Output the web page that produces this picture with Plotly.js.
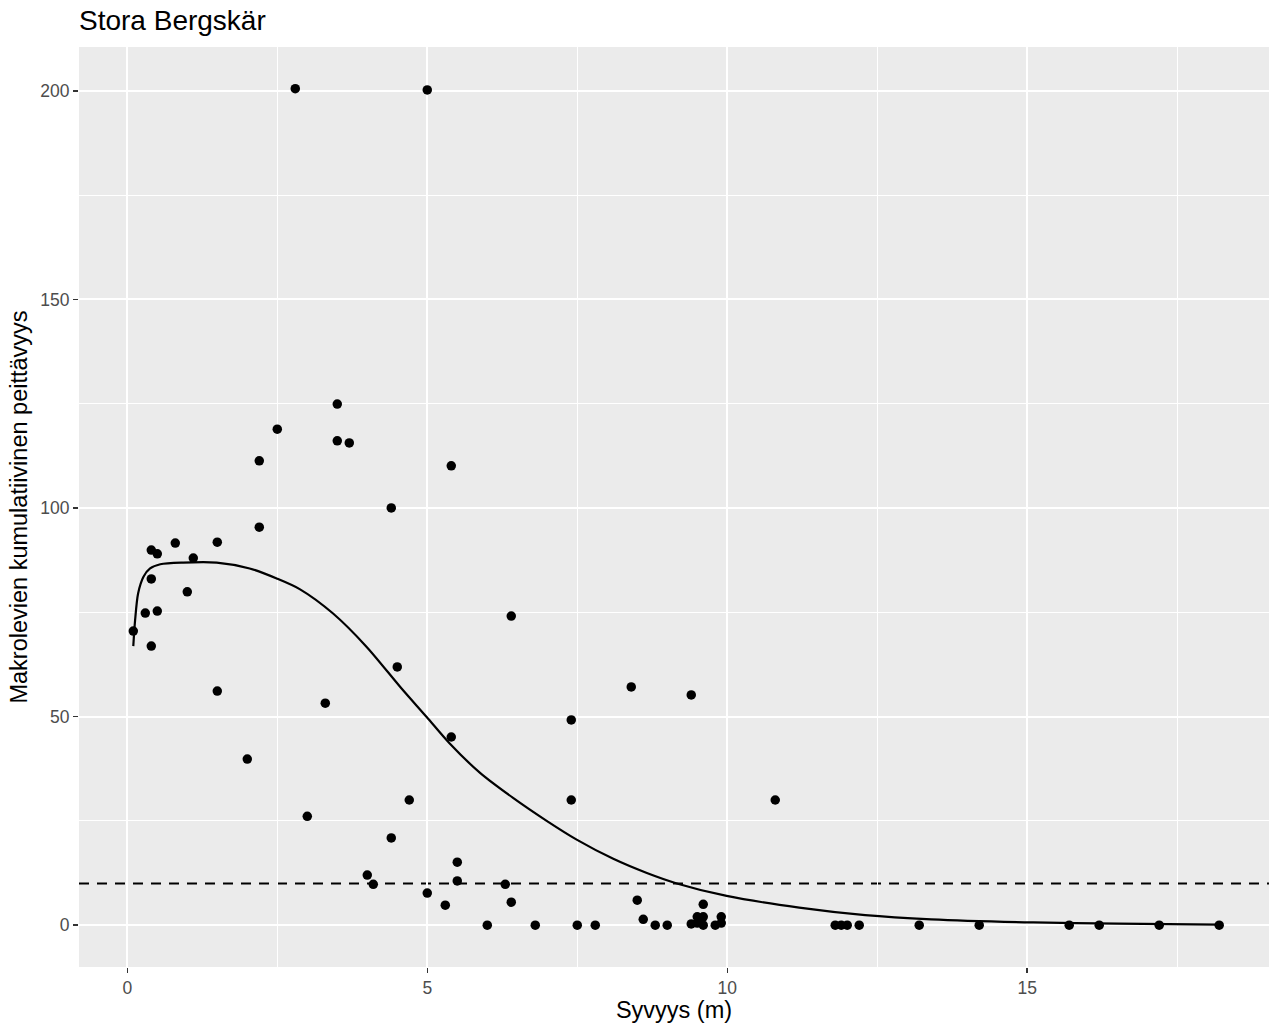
<!DOCTYPE html>
<html>
<head>
<meta charset="utf-8">
<script src="https://cdn.plot.ly/plotly-3.0.1.min.js"></script>
<style>
html,body{margin:0;padding:0;background:#fff;overflow:hidden;}
#chart{width:1269px;height:1023px;}
</style>
</head>
<body>
<div id="chart"></div>
<script>
// Observed points: depth (m) and cumulative macrophyte cover
const depth = [0.1,0.3,0.4,0.4,0.4,0.5,0.5,0.8,1.0,1.1,1.5,1.5,2.0,2.2,2.2,2.5,2.8,3.0,3.3,3.5,3.5,3.7,
  4.0,4.1,4.4,4.4,4.5,4.7,5.0,5.0,5.3,5.4,5.4,5.5,5.5,6.0,6.3,6.4,6.4,6.8,7.4,7.4,7.5,7.8,
  8.4,8.5,8.6,8.8,9.0,9.4,9.4,9.5,9.6,9.6,9.6,9.5,9.8,9.9,9.9,10.8,
  11.8,11.9,12.0,12.2,13.2,14.2,15.7,16.2,17.2,18.2];
const cover = [70.5,74.8,66.9,83.0,89.9,89.0,75.3,91.6,79.9,88.0,91.8,56.1,39.8,111.3,95.4,118.9,200.5,26.1,53.2,124.9,116.1,115.6,
  12.0,9.8,100.0,20.9,61.9,30.0,200.2,7.7,4.8,110.1,45.1,15.1,10.6,0.0,9.8,5.5,74.1,0.0,49.2,30.0,0.0,0.0,
  57.1,6.0,1.4,0.0,0.0,55.2,0.3,2.0,2.0,5.0,0.0,0.5,0.0,2.0,0.5,30.0,
  0,0,0,0,0,0,0,0,0,0];

// Fitted curve
const fitX = [0.1,0.13,0.18,0.27,0.38,0.55,0.93,1.49,2.04,2.49,2.88,3.43,3.99,4.55,4.99,5.37,5.88,6.43,6.99,7.49,8.1,8.66,9.16,9.99,11.2,12.3,13.4,15.1,16.5,18.2];
const fitY = [66.9,73.1,79.5,83.5,85.5,86.5,86.9,86.9,85.5,83.1,80.5,74.7,66.7,57.1,49.9,43.6,36.5,30.5,25.0,20.5,15.9,12.5,10.0,7.0,4.2,2.4,1.4,0.65,0.35,0.15];

// Threshold line
const threshold = 10;

const xTicks = [0,5,10,15];
const yTicks = [0,50,100,150,200];

const FONT = 'Liberation Sans, Arial, Helvetica, sans-serif';

const traces = [
  {
    x: fitX, y: fitY, type: 'scatter', mode: 'lines',
    line: {color: '#000000', width: 2.2, shape: 'spline', smoothing: 0.8},
    hoverinfo: 'skip', showlegend: false
  },
  {
    x: depth, y: cover, type: 'scatter', mode: 'markers',
    marker: {color: '#000000', size: 9.5, line: {width: 0}},
    showlegend: false
  }
];

const layout = {
  width: 1269, height: 1023,
  margin: {l: 79, r: 0, t: 47, b: 56, pad: 0},
  paper_bgcolor: '#ffffff',
  plot_bgcolor: '#EBEBEB',
  font: {family: FONT, color: '#000000'},
  title: {
    text: 'Stora Bergskär',
    font: {family: FONT, size: 28, color: '#000000'},
    x: 0, xanchor: 'left', xref: 'paper',
    y: 1 - 20/1023, yanchor: 'middle', yref: 'container'
  },
  xaxis: {
    range: [-0.805, 19.03],
    tickvals: xTicks, ticktext: xTicks.map(String),
    showgrid: true, gridcolor: '#FFFFFF', gridwidth: 2,
    minor: {dtick: 2.5, tick0: 0, showgrid: true, gridcolor: '#FFFFFF', gridwidth: 1, ticks: ''},
    zeroline: false, showline: false,
    ticks: 'outside', ticklen: 5, tickwidth: 1.5, tickcolor: '#333333',
    tickfont: {family: FONT, size: 17.5, color: '#4D4D4D'},
    title: {text: 'Syvyys (m)', font: {family: FONT, size: 23.5, color: '#000000'}, standoff: 3},
    fixedrange: true
  },
  yaxis: {
    range: [-10.03, 210.5],
    tickvals: yTicks, ticktext: yTicks.map(String),
    showgrid: true, gridcolor: '#FFFFFF', gridwidth: 2,
    minor: {dtick: 25, tick0: 0, showgrid: true, gridcolor: '#FFFFFF', gridwidth: 1, ticks: ''},
    zeroline: false, showline: false,
    ticks: 'outside', ticklen: 5, tickwidth: 1.5, tickcolor: '#333333',
    tickfont: {family: FONT, size: 17.5, color: '#4D4D4D'},
    title: {text: 'Makrolevien kumulatiivinen peittävyys', font: {family: FONT, size: 23.5, color: '#000000'}, standoff: 6},
    fixedrange: true
  },
  shapes: [
    {
      type: 'line', xref: 'paper', x0: 0, x1: 1, yref: 'y', y0: threshold, y1: threshold,
      line: {color: '#000000', width: 2, dash: '10px,8px'}, layer: 'below'
    }
  ]
};

Plotly.newPlot('chart', traces, layout, {displayModeBar: false, staticPlot: true});
</script>
</body>
</html>
